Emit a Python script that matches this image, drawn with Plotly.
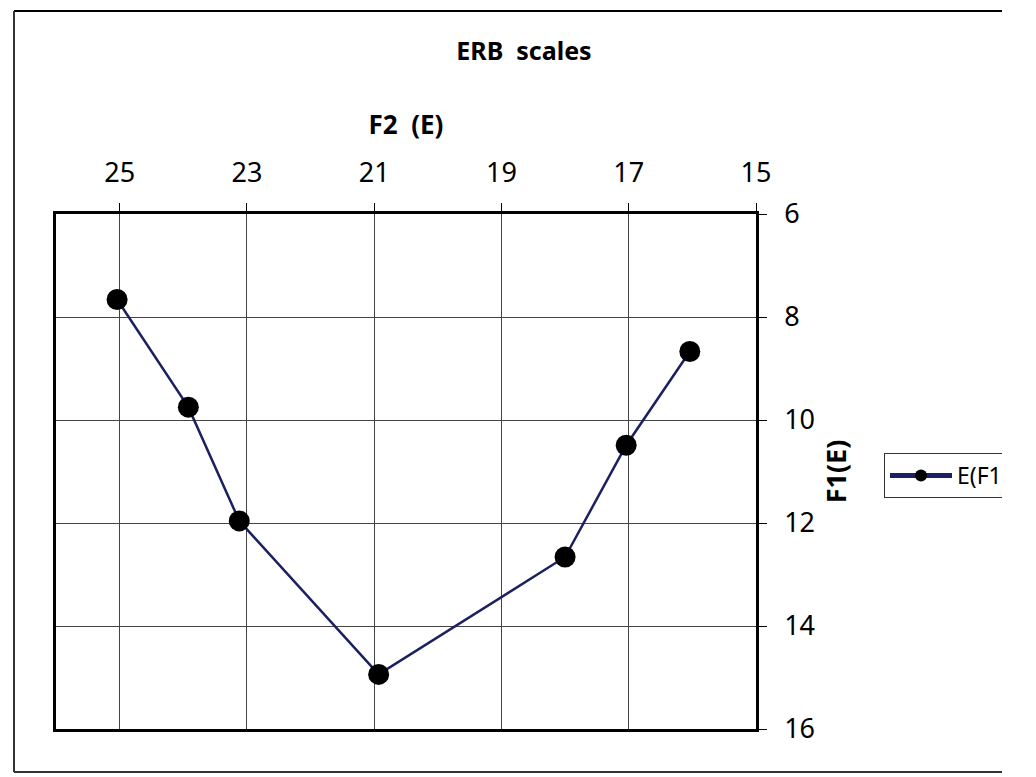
import plotly.graph_objects as go

# Data
f2_values = [25.04, 23.92, 23.12, 20.93, 18.0, 17.04, 16.04]
f1_values = [7.66, 9.75, 11.96, 14.94, 12.66, 10.49, 8.67]
series_name = "E(F1)"
chart_title = "ERB&nbsp; scales"
x_title = "F2&nbsp; (E)"
y_title = "F1(E)"

FONT = "Noto Sans"
OFF = 8  # page body margin
W, H = 1002 - OFF, 777 - OFF
L, T = 56 - OFF, 214 - OFF
PR, PB = 756 - OFF, 729 - OFF
R, B = W - PR, H - PB
pw, ph = W - L - R, H - T - B

def px_x(p):
    return (p - OFF - L) / pw

def px_y(p):
    return (H - B - (p - OFF)) / ph

fig = go.Figure()
fig.add_trace(go.Scatter(
    x=f2_values, y=f1_values, name=series_name, mode="lines+markers",
    line=dict(color="#1c2060", width=2.5),
    marker=dict(color="black", size=21),
    showlegend=True,
))

frame_col = "#333333"
shapes = [
    dict(type="line", xref="paper", yref="paper", x0=px_x(14), x1=px_x(1040), y0=px_y(11), y1=px_y(11),
         line=dict(color="black", width=2)),
    dict(type="line", xref="paper", yref="paper", x0=px_x(14), x1=px_x(1040), y0=px_y(772), y1=px_y(772),
         line=dict(color=frame_col, width=2)),
    dict(type="line", xref="paper", yref="paper", x0=px_x(14), x1=px_x(14), y0=px_y(11), y1=px_y(772),
         line=dict(color=frame_col, width=2)),
]

fig.update_layout(
    width=W, height=H,
    margin=dict(l=L, r=R, t=T, b=B, autoexpand=False),
    paper_bgcolor="white", plot_bgcolor="white",
    font=dict(family=FONT, color="black", size=26),
    title=dict(text="<b>" + chart_title + "</b>", x=px_x(524), xanchor="center", xref="paper",
               y=1 - (51 - OFF) / H, yanchor="middle", font=dict(size=25, family=FONT)),
    xaxis=dict(
        side="top", range=[26, 15], tick0=15, dtick=2,
        showgrid=True, gridcolor="#444444", gridwidth=1,
        showline=True, linecolor="black", linewidth=2.5, mirror=True,
        ticks="outside", ticklen=8, tickcolor="black", tickwidth=1,
        ticklabelstandoff=10,
        tickfont=dict(size=27, family=FONT),
        title=dict(text="<b>" + x_title + "</b>", font=dict(size=26, family=FONT), standoff=12),
        zeroline=False,
    ),
    yaxis=dict(
        side="right", range=[16, 6], tick0=6, dtick=2,
        showgrid=True, gridcolor="#444444", gridwidth=1,
        showline=True, linecolor="black", linewidth=2.5, mirror=True,
        ticks="outside", ticklen=8, tickcolor="black", tickwidth=1,
        ticklabelstandoff=12,
        tickfont=dict(size=27, family=FONT),
        title=dict(text="<b>" + y_title + "</b>", font=dict(size=27, family=FONT), standoff=14),
        zeroline=False,
    ),
    legend=dict(
        x=px_x(884), xanchor="left", y=px_y(453), yanchor="top",
        bordercolor="#333333", borderwidth=1, bgcolor="white",
        font=dict(size=23, family=FONT), itemsizing="constant", itemwidth=62,
    ),
    shapes=shapes,
)

fig.write_html("out.html")
